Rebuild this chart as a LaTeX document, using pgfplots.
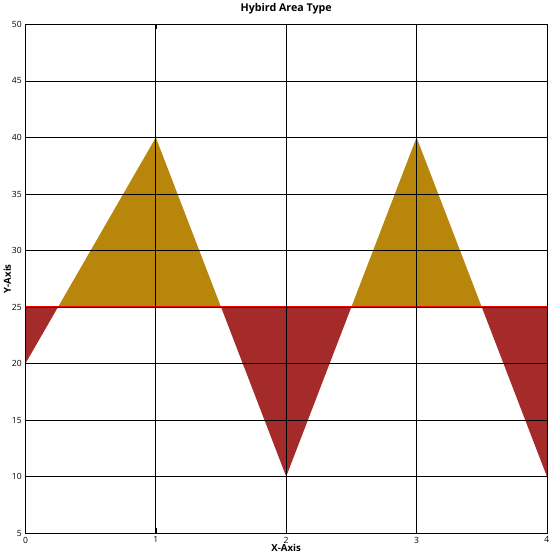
\documentclass[border=0pt]{standalone}
\usepackage{pgfplots}
\pgfplotsset{compat=1.18}
\usepackage{fontspec}
\setmainfont{Open Sans}
\definecolor{gold}{RGB}{184,134,11}
\definecolor{dred}{RGB}{165,42,42}
\begin{document}
\begin{tikzpicture}
\begin{axis}[
  width=486bp, height=474bp, scale only axis,
  xmin=0, xmax=4, ymin=5, ymax=50,
  xtick={0,1,2,3,4}, ytick={5,10,...,50},
  grid=major, grid style={black, line width=0.6pt},
  axis on top,
  axis line style={black},
  tick style={black},
  title={\textbf{Hybird Area Type}},
  xlabel={\textbf{X-Axis}}, ylabel={\textbf{Y-Axis}},
  label style={font=\small},
  title style={font=\normalsize},
  tick label style={font=\footnotesize},
  /pgf/number format/assume math mode=true,
  xlabel style={yshift=6pt}, ylabel style={yshift=-6pt},
]
\addplot[fill=gold, draw=none] coordinates {(0.25,25) (1,40) (1.5,25)} -- cycle;
\addplot[fill=gold, draw=none] coordinates {(2.5,25) (3,40) (3.5,25)} -- cycle;
\addplot[fill=dred, draw=none] coordinates {(0,25) (0,20) (0.25,25)} -- cycle;
\addplot[fill=dred, draw=none] coordinates {(1.5,25) (2,10) (2.5,25)} -- cycle;
\addplot[fill=dred, draw=none] coordinates {(3.5,25) (4,10) (4,25)} -- cycle;
\addplot[red, line width=1.5pt] coordinates {(0,25) (4,25)};
\end{axis}
\end{tikzpicture}
\end{document}
